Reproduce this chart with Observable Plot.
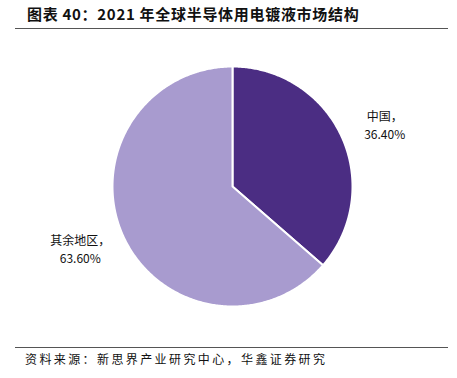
<!DOCTYPE html>
<html><head><meta charset="utf-8">
<script src="https://cdn.jsdelivr.net/npm/d3@7"></script>
<script src="https://cdn.jsdelivr.net/npm/@observablehq/plot@0.6"></script>
<style>
body{margin:0;background:#fff;font-family:"Noto Sans CJK SC",sans-serif;}
#wrap{width:457px;height:378px;position:relative;overflow:hidden;}
#title{position:absolute;left:27px;top:4px;font-size:15px;font-weight:bold;letter-spacing:0.7px;color:#111;white-space:nowrap;line-height:20px;}
#tline{position:absolute;left:15px;top:28px;width:433px;height:0;border-top:1.3px solid #555;}
#chart{position:absolute;left:0;top:30px;}
#sline{position:absolute;left:15px;top:347px;width:433px;height:0;border-top:1.3px solid #555;}
#source{position:absolute;left:25px;top:350px;font-size:12px;letter-spacing:2.4px;color:#111;white-space:nowrap;line-height:18px;}
</style></head>
<body><div id="wrap">
<div id="title">图表 40：2021 年全球半导体用电镀液市场结构</div>
<div id="tline"></div>
<div id="chart"></div>
<div id="sline"></div>
<div id="source">资料来源：新思界产业研究中心，华鑫证券研究</div>
</div>
<script>
const categories = ["中国", "其余地区"];
const values = [36.40, 63.60];
const labels = ["中国，\n36.40%", "其余地区，\n63.60%"];
const colors = ["#4B2D83", "#A89BCF"];

const pie = d3.pie().sort(null).value(d => d)(values);
// polygon points for each slice (angle 0 at top, clockwise)
const poly = [];
pie.forEach((p, i) => {
  poly.push({cat: categories[i], x: 0, y: 0});
  const n = Math.max(2, Math.ceil((p.endAngle - p.startAngle) / 0.01));
  for (let k = 0; k <= n; k++) {
    const a = p.startAngle + (p.endAngle - p.startAngle) * k / n;
    poly.push({cat: categories[i], x: Math.sin(a), y: Math.cos(a)});
  }
  poly.push({cat: categories[i], x: 0, y: 0});
});
const labelR = 1.37;
const labelData = pie.map((p, i) => {
  const a = (p.startAngle + p.endAngle) / 2 + 0.04;
  return {cat: categories[i], label: labels[i], x: Math.sin(a) * labelR, y: Math.cos(a) * labelR};
});

const plot = Plot.plot({
  width: 457, height: 316,
  marginLeft: 112, marginRight: 105, marginTop: 36, marginBottom: 40,
  x: {domain: [-1, 1], axis: null},
  y: {domain: [-1, 1], axis: null},
  color: {domain: categories, range: colors},
  style: {fontFamily: '"Noto Sans CJK SC", sans-serif', background: "transparent"},
  marks: [
    Plot.line(poly, {x: "x", y: "y", z: "cat", fill: "cat", stroke: "white", strokeWidth: 2, curve: "linear"}),
    Plot.text(labelData, {x: "x", y: "y", text: "label", fontSize: 12, lineHeight: 1.45, fill: "#111", textAnchor: "middle"})
  ]
});
document.getElementById("chart").appendChild(plot);
</script>
</body></html>
